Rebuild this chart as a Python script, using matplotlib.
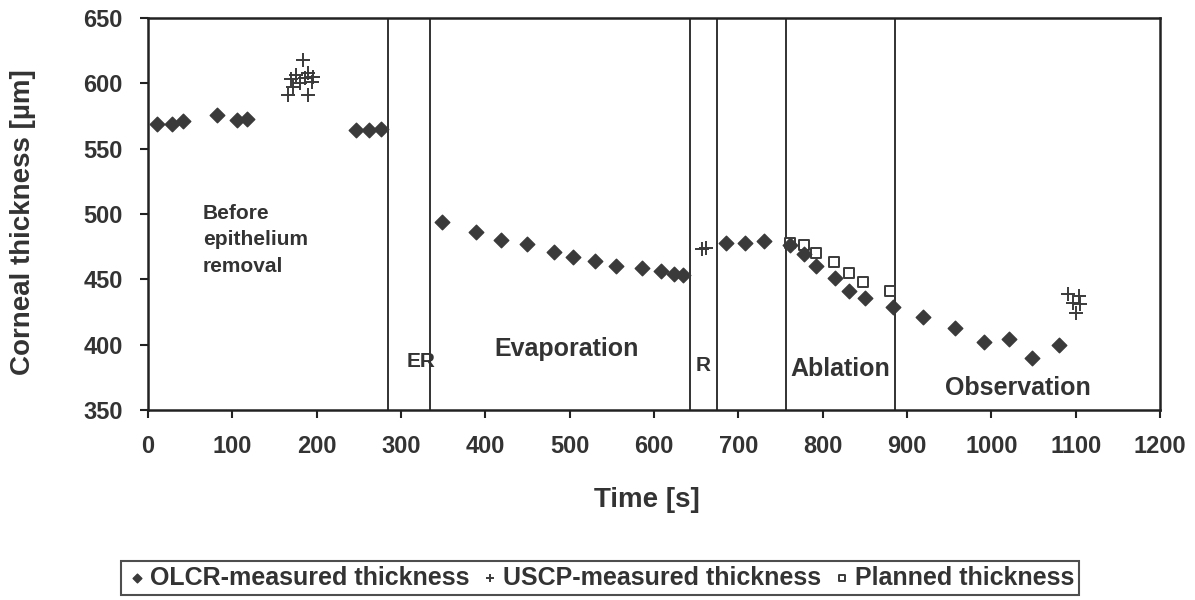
import matplotlib
matplotlib.use("Agg")
import matplotlib.pyplot as plt

plt.rcParams['font.family'] = ['Liberation Sans', 'DejaVu Sans']
plt.rcParams['font.weight'] = 'bold'
plt.rcParams['axes.labelweight'] = 'bold'

# OLCR-measured thickness (diamonds)
olcr_t = [11, 28, 42, 82, 106, 118, 247, 262, 276,
          349, 389, 419, 450, 481, 504, 530, 555, 586, 608, 624, 634,
          685, 708, 730,
          761, 778, 792, 815, 831, 850, 883,
          919, 957, 991, 1021, 1048, 1080]
olcr_v = [569, 569, 571, 576, 572, 573, 564, 564, 565,
          494, 486, 480, 477, 471, 467, 464, 460, 459, 456, 454, 453,
          478, 478, 479,
          476, 469, 460, 451, 441, 436, 429,
          421, 413, 402, 404, 390, 400]

# USCP-measured thickness (plus signs)
uscp_t = [166, 172, 170, 176, 180, 184, 186, 190, 190, 194, 196,
          657, 662,
          1091, 1104, 1097, 1105, 1100]
uscp_v = [591, 597, 603, 606, 600, 618, 604, 608, 591, 601, 605,
          473, 474,
          439, 437, 432, 431, 424]

# Planned thickness (open squares)
plan_t = [761, 778, 792, 814, 831, 848, 880]
plan_v = [478, 476, 470, 463, 455, 448, 441]

# phase boundaries [s]
bounds = [285, 335, 643, 675, 756, 886]

TXT = '#333333'

fig = plt.figure(figsize=(11.95, 6.0), dpi=100)
ax = fig.add_axes([0.1238, 0.3167, 0.8469, 0.6533])

for b in bounds:
    ax.axvline(b, color='#222222', lw=1.3, zorder=1)

ax.scatter(olcr_t, olcr_v, marker='D', s=55, color='#3a3a3a', zorder=3,
           label='OLCR-measured thickness')
ax.scatter(uscp_t, uscp_v, marker='+', s=90, color='#3a3a3a', linewidths=1.4,
           zorder=3, label='USCP-measured thickness')
ax.scatter(plan_t, plan_v, marker='s', s=60, facecolors='white',
           edgecolors='#3a3a3a', linewidths=1.4, zorder=2,
           label='Planned thickness')

ax.text(65, 508, 'Before\nepithelium\nremoval', fontsize=15, color=TXT,
        va='top', ha='left', linespacing=1.5)
ax.text(324, 387, 'ER', fontsize=15, color=TXT, ha='center', va='center')
ax.text(496, 397, 'Evaporation', fontsize=18, color=TXT, ha='center', va='center')
ax.text(658, 384, 'R', fontsize=15, color=TXT, ha='center', va='center')
ax.text(821, 381, 'Ablation', fontsize=18, color=TXT, ha='center', va='center')
ax.text(1031, 367, 'Observation', fontsize=18, color=TXT, ha='center', va='center')

ax.set_xlim(0, 1200)
ax.set_ylim(350, 650)
ax.set_xticks(range(0, 1201, 100))
ax.set_yticks(range(350, 651, 50))
ax.tick_params(direction='out', length=6, width=1.5, labelsize=17,
               labelcolor=TXT, color='#222222', pad=12)
for s in ax.spines.values():
    s.set_linewidth(1.8)
    s.set_color('#222222')

ax.set_xlabel('Time [s]', fontsize=20, color=TXT)
ax.set_ylabel('Corneal thickness [µm]', fontsize=20, color=TXT)
ax.xaxis.set_label_coords(0.493, -0.196)
ax.yaxis.set_label_coords(-0.111, 0.48)

leg = fig.legend(loc='lower center', bbox_to_anchor=(0.502, 0.0), ncol=3,
                 frameon=True, fancybox=False, fontsize=18,
                 handletextpad=0.05, columnspacing=0.4, borderpad=0.2,
                 borderaxespad=0.2, markerscale=0.6, handlelength=0.9)
leg.get_frame().set_edgecolor('#222222')
leg.get_frame().set_linewidth(1.5)
for t in leg.get_texts():
    t.set_color(TXT)

fig.savefig('out.png', dpi=100, facecolor='white')
